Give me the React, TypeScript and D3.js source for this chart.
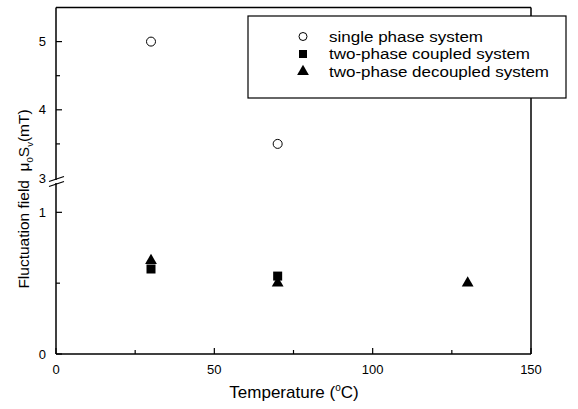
import React from "react";
import * as d3 from "d3";

const singleT = [30, 70];
const singleV = [5.0, 3.5];
const coupledT = [30, 70];
const coupledV = [0.6, 0.55];
const decoupledT = [30, 70, 130];
const decoupledV = [0.66, 0.5, 0.5];

const xMajor = [0, 50, 100, 150];
const xMinor = [25, 75, 125];
const yHighMajor = [3, 4, 5];
const yHighMinor = [3.5, 4.5];
const yLowMajor = [0, 1];
const yLowMinor = [0.5];

const legendLabels = ["single phase system", "two-phase coupled system", "two-phase decoupled system"];
const legendWidths = [154, 201, 220];

const W = 578, H = 409;
const L = 56, R = 531, T = 7.5, B = 354;
const x = d3.scaleLinear().domain([0, 150]).range([L, R]);
const yHigh = d3.scaleLinear().domain([3, 5.5]).range([178, T]);
const yLow = d3.scaleLinear().domain([0, 1.2]).range([B, 184]);

const font = "'Liberation Sans', Arial, sans-serif";
const tri = d3.symbol().type(d3.symbolTriangle).size(60)();

export default function App() {
  const tickFs = 13;
  return (
    <svg width={W} height={H} style={{ position: "absolute", left: 0, top: 0, background: "#fff" }} fontFamily={font}>
      <rect width={W} height={H} fill="#fff" />
      {/* frame */}
      <line x1={L} x2={R} y1={T} y2={T} stroke="#000" strokeWidth={1.5} />
      <line x1={L} x2={R} y1={B} y2={B} stroke="#000" strokeWidth={1.5} />
      <line x1={R} x2={R} y1={T} y2={B} stroke="#000" strokeWidth={1.5} />
      <line x1={L} x2={L} y1={T} y2={yHigh(3) + 2} stroke="#000" strokeWidth={1.5} />
      <line x1={L} x2={L} y1={yLow(1.2) - 1} y2={B} stroke="#000" strokeWidth={1.5} />
      {/* break marks */}
      <line x1={L - 7} x2={L + 8} y1={yHigh(3) + 3.5} y2={yHigh(3) - 1.5} stroke="#000" strokeWidth={1.2} />
      <line x1={L - 7} x2={L + 8} y1={yHigh(3) + 8.5} y2={yHigh(3) + 3.5} stroke="#000" strokeWidth={1.2} />
      {/* x ticks */}
      {xMajor.map((v) => (
        <g key={"xm" + v}>
          <line x1={x(v)} x2={x(v)} y1={B} y2={B - 6} stroke="#000" strokeWidth={1.2} />
          <text x={x(v)} y={B + 20} fontSize={tickFs} textAnchor="middle">{v}</text>
        </g>
      ))}
      {xMinor.map((v) => (
        <line key={"xn" + v} x1={x(v)} x2={x(v)} y1={B} y2={B - 4} stroke="#000" strokeWidth={1.2} />
      ))}
      {/* y ticks */}
      {yHighMajor.map((v) => (
        <g key={"yh" + v}>
          {v !== 3 && <line x1={L} x2={L + 6} y1={yHigh(v)} y2={yHigh(v)} stroke="#000" strokeWidth={1.2} />}
          <text x={L - 10} y={yHigh(v) + 4.5} fontSize={tickFs} textAnchor="end">{v}</text>
        </g>
      ))}
      {yHighMinor.map((v) => (
        <line key={"yhn" + v} x1={L} x2={L + 4} y1={yHigh(v)} y2={yHigh(v)} stroke="#000" strokeWidth={1.2} />
      ))}
      {yLowMajor.map((v) => (
        <g key={"yl" + v}>
          <line x1={L} x2={L + 6} y1={yLow(v)} y2={yLow(v)} stroke="#000" strokeWidth={1.2} />
          <text x={L - 10} y={yLow(v) + 4.5} fontSize={tickFs} textAnchor="end">{v}</text>
        </g>
      ))}
      {yLowMinor.map((v) => (
        <line key={"yln" + v} x1={L} x2={L + 4} y1={yLow(v)} y2={yLow(v)} stroke="#000" strokeWidth={1.2} />
      ))}
      {/* data */}
      {singleT.map((t, i) => (
        <circle key={"s" + i} cx={x(t)} cy={yHigh(singleV[i])} r={4.5} fill="#fff" stroke="#000" strokeWidth={1} />
      ))}
      {coupledT.map((t, i) => (
        <rect key={"c" + i} x={x(t) - 4.5} y={yLow(coupledV[i]) - 4.5} width={9} height={9} fill="#000" />
      ))}
      {decoupledT.map((t, i) => (
        <path key={"d" + i} d={tri as string} transform={`translate(${x(t)},${yLow(decoupledV[i])})`} fill="#000" />
      ))}
      {/* legend */}
      <rect x={248} y={16} width={318} height={82} fill="#fff" stroke="#000" strokeWidth={1.2} />
      {legendLabels.map((lab, i) => {
        const cy = 36.5 + i * 17.5;
        return (
          <g key={"lg" + i}>
            {i === 0 && <circle cx={303} cy={cy} r={4} fill="#fff" stroke="#000" strokeWidth={1} />}
            {i === 1 && <rect x={299} y={cy - 4} width={8} height={8} fill="#000" />}
            {i === 2 && <path d={tri as string} transform={`translate(303,${cy})`} fill="#000" />}
            <text x={329} y={cy + 5.3} fontSize={15.5} textLength={legendWidths[i]} lengthAdjust="spacingAndGlyphs">{lab}</text>
          </g>
        );
      })}
      {/* axis titles */}
      <text x={294} y={398} fontSize={17} textAnchor="middle">
        Temperature (<tspan fontSize={10} dy={-7}>o</tspan><tspan dy={7}>C)</tspan>
      </text>
      <text transform="translate(29,199) rotate(-90)" fontSize={15.5} textAnchor="middle" style={{ whiteSpace: "pre" }}>
        {"Fluctuation field  μ"}<tspan fontSize={9.5} dy={4}>0</tspan><tspan dy={-4}>S</tspan><tspan fontSize={9.5} dy={4}>v</tspan><tspan dy={-4}>(mT)</tspan>
      </text>
    </svg>
  );
}
